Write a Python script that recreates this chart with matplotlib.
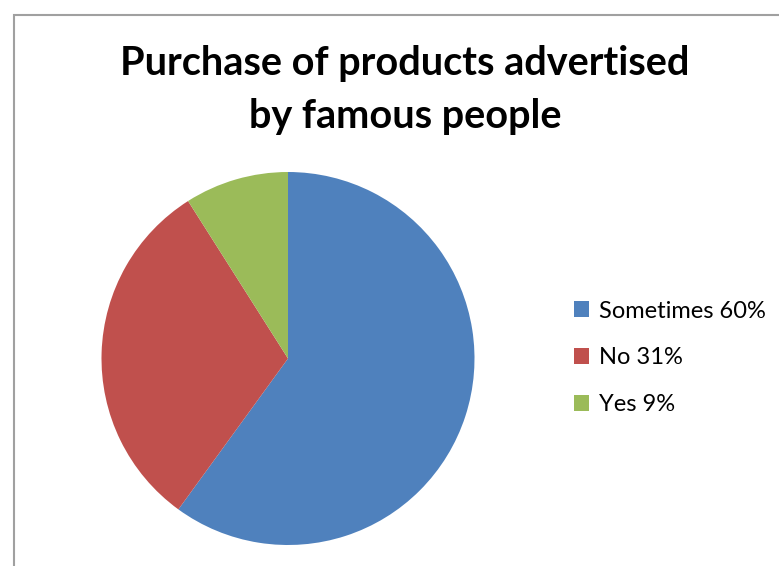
import matplotlib
matplotlib.use('Agg')
import matplotlib.pyplot as plt
from matplotlib.patches import Rectangle

W, H = 779, 566
DPI = 100

categories = ['Sometimes', 'No', 'Yes']
shares = [60, 31, 9]
colors = ['#4F81BD', '#C0504D', '#9BBB59']
title = 'Purchase of products advertised\nby famous people'

plt.rcParams['font.family'] = ['Lato', 'DejaVu Sans']

fig = plt.figure(figsize=(W / DPI, H / DPI), dpi=DPI)

# chart area border, running off the right and bottom edges
fig.patches.append(Rectangle((13.5 / W, -0.1), 1.2, 1 - 15 / H + 0.1,
                             transform=fig.transFigure, fill=False,
                             edgecolor='#A0A0A0', linewidth=1.5))

fig.text(405 / W, 1 - 90 / H, title, ha='center', va='center',
         fontsize=28.5, fontweight='bold', linespacing=1.52)

cx, cy, r = 288, 358.5, 186.5
ax = fig.add_axes([(cx - r) / W, (H - cy - r) / H, 2 * r / W, 2 * r / H])
wedges, _ = ax.pie(shares, colors=colors, startangle=90, counterclock=False,
                   radius=1, wedgeprops=dict(linewidth=0))
ax.set_xlim(-1, 1)
ax.set_ylim(-1, 1)
ax.set_aspect('equal')

labels = [f'{c} {v}%' for c, v in zip(categories, shares)]
fig.legend(wedges, labels, loc='center left',
           bbox_to_anchor=(553 / W, 1 - 358 / H), frameon=False,
           fontsize=17, handlelength=0.64, handleheight=0.64,
           handletextpad=0.4, labelspacing=1.1)

fig.savefig('out.png', dpi=DPI)
